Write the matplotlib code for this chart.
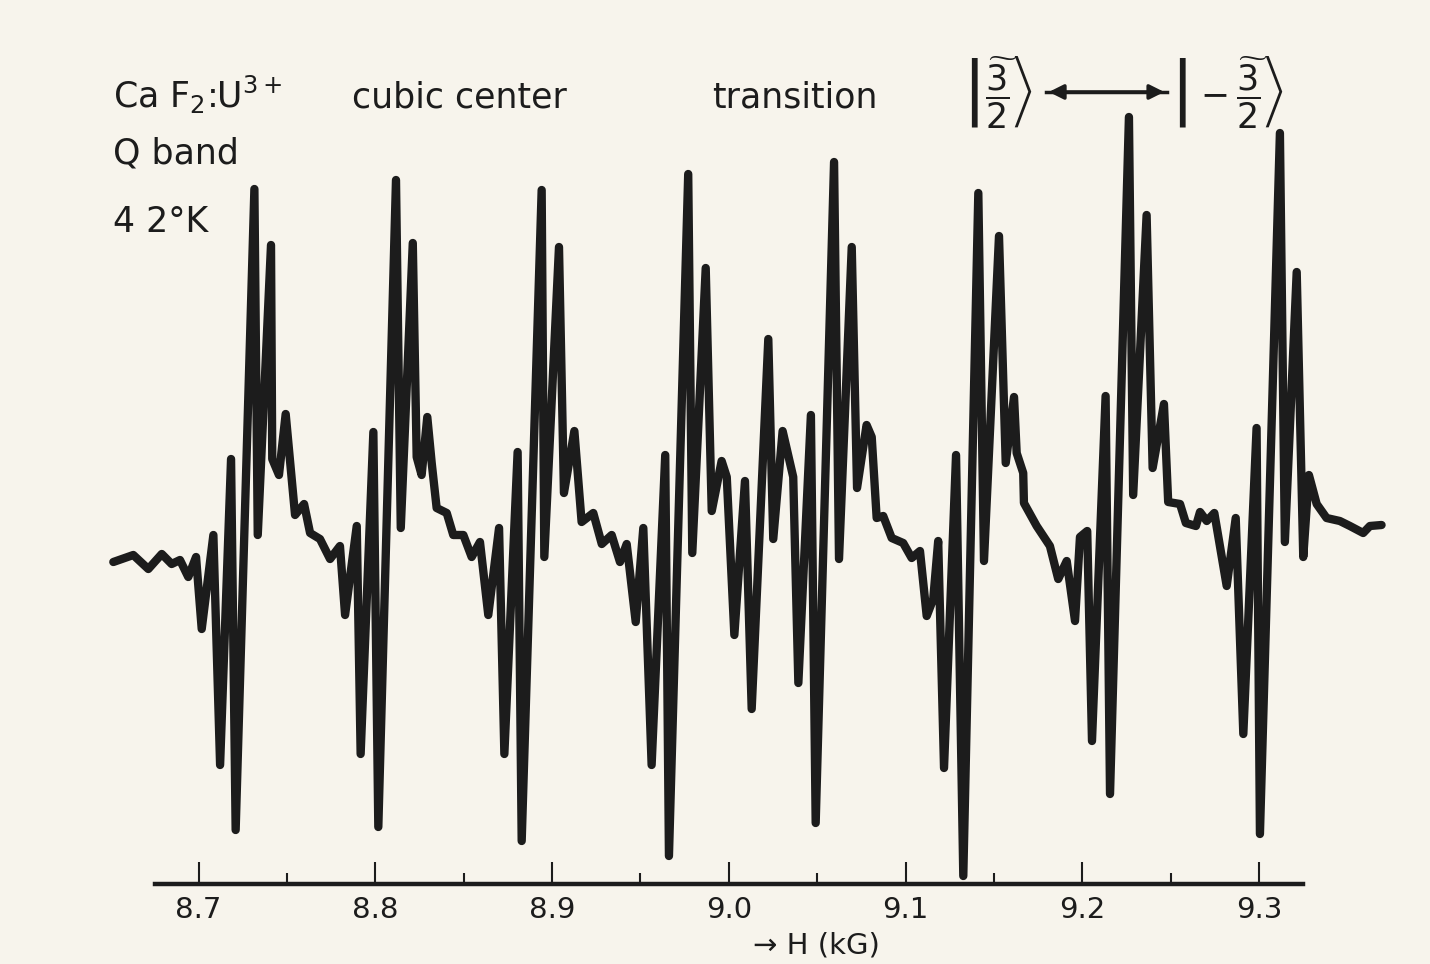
import numpy as np
import matplotlib
matplotlib.use('Agg')
from matplotlib import pyplot as plt

# EPR trace: field in kG, signal in arb. units
field_kG = [8.6518, 8.6631, 8.6716, 8.6792, 8.6848, 8.6895, 8.6942, 8.6986, 8.7018, 8.7084,
            8.7122, 8.7184, 8.7210, 8.7316, 8.7335, 8.7410, 8.7417, 8.7455, 8.7493, 8.7546,
            8.7597, 8.7631, 8.7687, 8.7744, 8.7800, 8.7829, 8.7895, 8.7917, 8.7989, 8.8017,
            8.8117, 8.8144, 8.8212, 8.8234, 8.8262, 8.8294, 8.8319, 8.8347, 8.8404, 8.8441,
            8.8498, 8.8545, 8.8592, 8.8639, 8.8700, 8.8730, 8.8805, 8.8828, 8.8941, 8.8956,
            8.9039, 8.9067, 8.9126, 8.9167, 8.9233, 8.9281, 8.9337, 8.9384, 8.9422, 8.9473,
            8.9516, 8.9563, 8.9640, 8.9661, 8.9770, 8.9793, 8.9869, 8.9903, 8.9959, 8.9988,
            9.0031, 9.0091, 9.0129, 9.0223, 9.0251, 9.0304, 9.0364, 9.0393, 9.0464, 9.0491,
            9.0595, 9.0623, 9.0695, 9.0725, 9.0779, 9.0808, 9.0836, 9.0873, 9.0921, 9.0986,
            9.1034, 9.1081, 9.1119, 9.1156, 9.1184, 9.1217, 9.1285, 9.1326, 9.1411, 9.1443,
            9.1528, 9.1566, 9.1613, 9.1628, 9.1665, 9.1669, 9.1741, 9.1816, 9.1863, 9.1911,
            9.1958, 9.1986, 9.2027, 9.2054, 9.2131, 9.2156, 9.2263, 9.2287, 9.2363, 9.2397,
            9.2461, 9.2485, 9.2552, 9.2585, 9.2642, 9.2665, 9.2703, 9.2746, 9.2816, 9.2867,
            9.2910, 9.2985, 9.3004, 9.3117, 9.3145, 9.3212, 9.3249, 9.3281, 9.3325, 9.3381,
            9.3456, 9.3513, 9.3588, 9.3626, 9.3692]
signal = [0.01, 0.08, -0.06, 0.09, -0.01, 0.03, -0.14, 0.06, -0.66, 0.28,
          -2.02, 1.04, -2.67, 3.74, 0.28, 3.18, 1.04, 0.88, 1.49, 0.48,
          0.59, 0.30, 0.24, 0.04, 0.17, -0.52, 0.37, -1.91, 1.31, -2.64,
          3.83, 0.35, 3.20, 1.06, 0.88, 1.46, 1.00, 0.55, 0.50, 0.28,
          0.28, 0.06, 0.21, -0.52, 0.35, -1.91, 1.11, -2.78, 3.73, 0.06,
          3.16, 0.70, 1.32, 0.41, 0.50, 0.19, 0.28, 0.01, 0.19, -0.59,
          0.35, -2.02, 1.08, -2.93, 3.89, 0.10, 2.95, 0.52, 1.02, 0.86,
          -0.72, 0.82, -1.46, 2.24, 0.24, 1.32, 0.86, -1.20, 1.48, -2.60,
          4.01, 0.04, 3.16, 0.75, 1.38, 1.26, 0.45, 0.47, 0.25, 0.20,
          0.05, 0.12, -0.53, -0.36, 0.22, -2.05, 1.08, -3.13, 3.70, 0.02,
          3.27, 1.00, 1.66, 1.10, 0.90, 0.60, 0.37, 0.17, -0.16, 0.02,
          -0.58, 0.26, 0.32, -1.78, 1.67, -2.31, 4.46, 0.68, 3.48, 0.95,
          1.59, 0.61, 0.59, 0.40, 0.37, 0.51, 0.42, 0.50, -0.23, 0.45,
          -1.71, 1.35, -2.71, 4.30, 0.21, 2.91, 0.06, 0.88, 0.59, 0.45,
          0.42, 0.37, 0.30, 0.37, 0.38]

major_ticks = [8.7, 8.8, 8.9, 9.0, 9.1, 9.2, 9.3]
tick_labels = ['8.7', '8.8', '8.9', '9.0', '9.1', '9.2', '9.3']
minor_ticks = [8.75, 8.85, 8.95, 9.05, 9.15, 9.25]

ink = '#1c1c1c'
paper = '#f7f4ec'

fig = plt.figure(figsize=(14.3, 9.64), dpi=100, facecolor=paper)
ax = fig.add_axes([0, 0, 1, 1], facecolor=paper)

ax.plot(field_kG, signal, color=ink, lw=6, solid_joinstyle='round', solid_capstyle='round')

ax.set_xlim(8.5877, 9.3966)
ax.set_ylim(-4.01, 5.63)

for s in ['top', 'left', 'right']:
    ax.spines[s].set_visible(False)
ax.spines['bottom'].set_position(('data', -3.21))
ax.spines['bottom'].set_bounds(8.6754, 9.3247)
ax.spines['bottom'].set_linewidth(3.2)
ax.spines['bottom'].set_color(ink)

ax.set_yticks([])
ax.set_xticks(major_ticks)
ax.set_xticklabels(tick_labels)
ax.set_xticks(minor_ticks, minor=True)
ax.tick_params(axis='x', which='major', direction='in', length=16, width=1.5,
               color=ink, labelsize=21, labelcolor=ink, pad=9)
ax.tick_params(axis='x', which='minor', direction='in', length=8, width=1.5, color=ink)

ax.set_xlabel('\u2192 H (kG)', fontsize=21, color=ink)
ax.xaxis.set_label_coords(0.571, 0.034)

# header lettering
fs = 25
fig.text(0.079, 0.888, r'Ca F$_2$:U$^{3+}$', fontsize=fs, color=ink, va='baseline')
fig.text(0.2462, 0.888, 'cubic center', fontsize=fs, color=ink, va='baseline')
fig.text(0.4979, 0.888, 'transition', fontsize=fs, color=ink, va='baseline')
fig.text(0.6727, 0.888, r'$\left|\widetilde{\dfrac{3}{2}}\right\rangle$', fontsize=fs, color=ink, va='baseline')
fig.text(0.8182, 0.888, r'$\left|-\widetilde{\dfrac{3}{2}}\right\rangle$', fontsize=fs, color=ink, va='baseline')
fig.add_artist(plt.Line2D([0.7315, 0.8161], [0.9046, 0.9046], color=ink, lw=2.5))
ax.annotate('', xy=(0.7315, 0.9046), xytext=(0.8161, 0.9046), xycoords='figure fraction',
            arrowprops=dict(arrowstyle='<|-|>', color=ink, lw=2.5, mutation_scale=22))
fig.text(0.079, 0.8309, 'Q band', fontsize=fs, color=ink, va='baseline')
fig.text(0.079, 0.7593, '4 2°K', fontsize=fs, color=ink, va='baseline')

fig.savefig('out.png', dpi=100, facecolor=paper)
